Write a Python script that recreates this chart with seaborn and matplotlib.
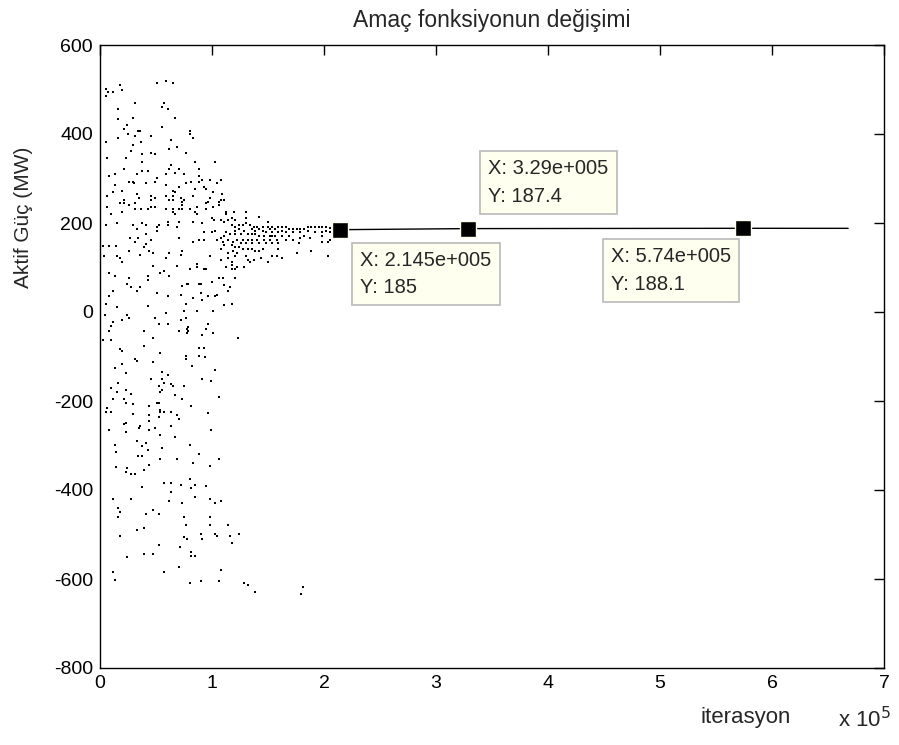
import matplotlib
matplotlib.use("Agg")
import matplotlib.pyplot as plt
import seaborn as sns
import pandas as pd

# ---------------- data ----------------
title = "Amaç fonksiyonun değişimi"
xlabel = "iterasyon"
ylabel = "Aktif Güç (MW)"
x_ticks = [0, 100000, 200000, 300000, 400000, 500000, 600000, 700000]
x_ticklabels = ["0", "1", "2", "3", "4", "5", "6", "7"]
y_ticks = [-800, -600, -400, -200, 0, 200, 400, 600]

# scattered iterations (x: iteration, y: MW)
pts_top = [(17900, 510), (50900, 515), (58900, 519), (65200, 515), (5400, 501), (7100, 494), (11600, 494),
           (19600, 499), (5400, 485), (31300, 470), (57100, 470), (55400, 461), (60700, 456), (16100, 456),
           (29500, 436), (67000, 436), (16100, 434), (24100, 420), (21400, 411), (55400, 416), (33900, 407),
           (35700, 407), (25000, 400), (31300, 396), (45500, 396), (16100, 391), (5400, 382), (36600, 382),
           (63400, 387), (29500, 375), (68800, 371), (61600, 366), (27700, 362), (37500, 355), (45500, 357),
           (49100, 355), (76800, 357), (6300, 346), (23200, 346), (37500, 337), (63400, 330), (61600, 321),
           (70500, 321), (21400, 321), (37500, 317), (42900, 317), (67000, 312), (13400, 310), (8000, 306),
           (33000, 310), (58900, 310), (75000, 310), (50900, 301), (49100, 292), (25900, 292), (29500, 292),
           (30400, 290), (41100, 290), (76800, 290), (13400, 285), (58900, 285), (70500, 281), (19600, 272),
           (11600, 270), (65200, 272), (67000, 270), (33000, 265), (6300, 261), (34800, 256), (45500, 261),
           (49100, 256), (58900, 261), (65200, 261), (72300, 256), (45500, 252), (21400, 252), (61600, 252),
           (65200, 252), (75000, 252), (17900, 245), (21400, 245), (31300, 245), (73200, 247), (6300, 236),
           (25900, 240), (45500, 236), (49100, 236), (73200, 240), (58900, 231), (65200, 231), (70500, 231),
           (73200, 231), (31300, 231), (42900, 231), (36600, 231), (19600, 225), (9800, 220), (65200, 225),
           (67000, 220)]
pts_top_mid = [(80400, 407), (80400, 400), (83000, 391), (84800, 337), (102700, 337), (88400, 321),
               (88400, 306), (81300, 292), (88400, 292), (91100, 297), (98200, 297), (108000, 297),
               (92900, 281), (104500, 290), (94600, 276), (84800, 276), (100900, 270), (83000, 261),
               (108900, 265), (98200, 256), (96400, 247), (94600, 245), (108000, 252), (110700, 252),
               (106300, 247), (106300, 240), (100900, 236), (86600, 236), (94600, 231), (80400, 231),
               (84800, 225), (112500, 225), (112500, 220), (119600, 225), (130400, 225), (86600, 220)]
pts_mid_left = [(5400, 196), (15200, 200), (29500, 196), (37500, 200), (41100, 196), (33000, 187),
                (50900, 191), (52700, 196), (50900, 182), (60700, 202), (60700, 196), (70500, 202),
                (68800, 191), (41100, 175), (26800, 166), (33900, 166), (45500, 162), (70500, 166),
                (31300, 157), (41100, 153), (2700, 148), (8000, 148), (14300, 148), (39300, 146),
                (25900, 137), (43800, 137), (47300, 133), (61600, 133), (73200, 137), (72300, 128),
                (3600, 126), (15200, 126), (35700, 128), (58900, 121), (17900, 121), (19600, 112),
                (47300, 103), (68800, 103), (8000, 88), (13400, 81), (25900, 76), (42900, 81), (42900, 72),
                (53600, 88), (57100, 92), (61600, 81), (24100, 63), (27700, 56), (35700, 56), (33000, 47),
                (73200, 58), (77700, 63), (11600, 47), (50900, 43), (8000, 36), (60700, 36), (72300, 38),
                (5400, 18), (15200, 11), (42900, 13), (76800, 18), (4500, -7), (24100, -7), (25900, -13),
                (19600, -18), (11600, -22), (49100, -13), (58900, -2), (75000, 2), (72300, -18),
                (76800, -13), (52700, -27), (60700, -27), (9800, -31), (8000, -43), (39300, -43),
                (70500, -43), (77700, -38), (77700, -47), (2700, -63), (9800, -63), (47300, -58),
                (39300, -76), (17900, -83), (19600, -88), (53600, -92)]
pts_cluster = [(83000, 202), (91100, 200), (100000, 211), (101800, 207), (108000, 207), (110700, 202),
               (114300, 207), (117900, 211), (120500, 207), (130400, 211), (130400, 200), (142000, 213),
               (150000, 202), (117900, 196), (120500, 191), (124100, 196), (127700, 196), (133900, 196),
               (137500, 191), (140200, 191), (145500, 191), (150000, 191), (151800, 187), (120500, 182),
               (124100, 187), (128600, 182), (135700, 187), (138400, 182), (142000, 187), (145500, 182),
               (148200, 180), (100000, 180), (102700, 182), (92900, 180), (112500, 180), (116100, 175),
               (120500, 175), (125900, 175), (132100, 175), (135700, 175), (138400, 175), (142000, 171),
               (146400, 171), (151800, 171), (110700, 171), (108000, 166), (104500, 162), (114300, 162),
               (122300, 162), (127700, 162), (132100, 162), (135700, 162), (140200, 162), (146400, 162),
               (151800, 162), (83000, 157), (88400, 162), (92900, 162), (109800, 157), (118800, 157),
               (125900, 155), (130400, 155), (135700, 155), (142000, 155), (148200, 155), (110700, 151),
               (117900, 151), (120500, 146), (124100, 146), (127700, 142), (132100, 142), (135700, 142),
               (138400, 137), (142000, 137), (145500, 142), (118800, 137), (114300, 133), (122300, 133),
               (108000, 142), (98200, 126), (120500, 126), (114300, 121), (130400, 126), (137500, 117),
               (143800, 121), (132100, 117), (133900, 112), (150000, 112), (108000, 117), (117900, 112),
               (86600, 108), (86600, 101), (92900, 97), (94600, 97), (80400, 97), (112500, 101),
               (117900, 106), (122300, 101), (117900, 97), (120500, 97), (128600, 101), (106300, 76),
               (109800, 76), (120500, 76), (100000, 67), (78600, 63), (88400, 63), (90200, 63),
               (110700, 61), (116100, 56), (114300, 47), (90200, 43), (104500, 38), (102700, 36),
               (96400, 36), (83000, 31), (91100, 27), (117900, 18), (110700, 16), (86600, 2), (100900, 2),
               (96400, -27), (78600, -34), (78600, -43), (94600, -38), (100900, -47), (91100, -52),
               (123200, -58), (88400, -81), (92900, -81)]
pts_tail = [(153600, 191), (156300, 187), (158900, 191), (162500, 191), (166100, 191), (168800, 187),
            (172300, 187), (175900, 187), (178600, 187), (182100, 187), (185700, 191), (188400, 191),
            (192000, 191), (195500, 191), (198200, 191), (201800, 191), (205400, 189), (153600, 180),
            (158900, 180), (162500, 182), (166100, 180), (172300, 180), (178600, 180), (185700, 182),
            (192000, 180), (198200, 180), (201800, 182), (205400, 180), (153600, 171), (156300, 171),
            (162500, 171), (168800, 171), (182100, 171), (187500, 166), (198200, 171), (158000, 162),
            (166100, 162), (172300, 162), (178600, 166), (198200, 157), (203600, 157), (205400, 162),
            (153600, 155), (158900, 155), (177700, 155), (158900, 142), (188400, 137), (175900, 133),
            (153600, 126), (158000, 126), (162500, 121), (203600, 126)]
pts_low_left = [(31300, -106), (33000, -110), (47300, -112), (19600, -117), (13400, -126), (23200, -137),
                (55400, -135), (60700, -142), (45500, -151), (55400, -151), (16100, -160), (57100, -160),
                (63400, -162), (65200, -166), (75000, -166), (52700, -166), (9800, -171), (15200, -180),
                (23200, -175), (55400, -175), (53600, -180), (27700, -184), (67000, -187), (73200, -196),
                (11600, -196), (21400, -196), (23200, -204), (50900, -204), (52700, -204), (29500, -207),
                (43800, -211), (6300, -216), (5400, -225), (9800, -225), (53600, -220), (53600, -225),
                (57100, -225), (63400, -225), (29500, -229), (43800, -231), (68800, -231), (52700, -236),
                (70500, -240), (43800, -245), (23200, -249), (21400, -252), (63400, -256), (35700, -256),
                (34800, -261), (49100, -261), (8000, -265), (43800, -265), (23200, -270), (53600, -276),
                (67000, -281), (33000, -290), (41100, -294), (13400, -299), (37500, -301), (55400, -306),
                (42900, -310), (14300, -315), (33900, -324), (37500, -324), (53600, -330), (68800, -330),
                (43800, -344), (14300, -348), (24100, -351), (39300, -355), (23200, -360), (27700, -364),
                (31300, -364), (37500, -393), (57100, -384), (63400, -384), (72300, -389), (63400, -404)]
pts_low_mid = [(76800, -99), (76800, -106), (88400, -99), (93800, -101), (82100, -121), (102700, -130),
               (91100, -151), (99100, -155), (106300, -191), (81300, -211), (96400, -227), (99100, -265),
               (80400, -299), (88400, -319), (106300, -330), (83000, -339), (98200, -346), (80400, -375),
               (84800, -389), (94600, -391), (81300, -396)]
pts_bottom = [(11600, -420), (27700, -420), (61600, -425), (73200, -429), (16100, -440), (17900, -449),
              (47300, -445), (41100, -454), (52700, -454), (16100, -461), (75000, -461), (76800, -479),
              (39300, -485), (33000, -490), (17900, -503), (75000, -506), (77700, -510), (71400, -528),
              (52700, -524), (39300, -544), (47300, -544), (24100, -551), (70500, -573), (57100, -584),
              (11600, -584), (13400, -602), (84800, -416), (98200, -420), (102700, -429), (108000, -425),
              (98200, -461), (98200, -479), (114300, -479), (90200, -499), (102700, -499), (104500, -503),
              (116100, -503), (124100, -499), (91100, -510), (117900, -519), (81300, -539), (81300, -548),
              (84800, -548), (108000, -580), (80400, -609), (90200, -604), (106300, -604), (128600, -609),
              (132100, -613), (138400, -629), (181300, -618), (179500, -634)]

# converged part of the run
conv_x = [214500, 329000, 574000, 668000]
conv_y = [185.0, 187.4, 188.1, 188.0]

# data tips
tip_x = [214500, 329000, 574000]
tip_y = [185, 187.4, 188.1]
tip_text = ["X: 2.145e+005\nY: 185", "X: 3.29e+005\nY: 187.4", "X: 5.74e+005\nY: 188.1"]

# ---------------- plot ----------------
sns.set_style("white")
plt.rcParams["font.family"] = ["Liberation Sans", "DejaVu Sans"]
plt.rcParams["axes.unicode_minus"] = False

all_pts = pts_top + pts_top_mid + pts_mid_left + pts_cluster + pts_tail + pts_low_left + pts_low_mid + pts_bottom
df = pd.DataFrame(all_pts, columns=["iter", "val"])
conv = pd.DataFrame({"iter": conv_x, "val": conv_y})

fig = plt.figure(figsize=(8.99, 7.45), dpi=100)
ax = fig.add_axes([100 / 899, 1 - 668 / 745, 784 / 899, 623 / 745])

sns.scatterplot(data=df, x="iter", y="val", ax=ax, color="black", s=2.5, marker="s",
                linewidth=0, legend=False)
sns.lineplot(data=conv, x="iter", y="val", ax=ax, color="black", linewidth=1.0, legend=False)
ax.plot(tip_x, tip_y, linestyle="none", marker="s", markersize=11, color="black",
        markeredgecolor="#fffff0", markeredgewidth=1.0, zorder=5)

ax.set_xlim(0, 700000)
ax.set_ylim(-800, 600)
ax.set_xticks(x_ticks)
ax.set_xticklabels(x_ticklabels)
ax.set_yticks(y_ticks)
ax.set_yticklabels([str(v) for v in y_ticks])
ax.tick_params(direction="in", length=7, width=1, top=True, right=True, labelsize=14, colors="black", pad=5)
for sp in ax.spines.values():
    sp.set_color("black")
    sp.set_linewidth(1.0)

ax.set_title(title, fontsize=16.5, pad=13)
ax.set_xlabel(xlabel, fontsize=16)
ax.xaxis.set_label_coords(0.823, -0.063)
ax.set_ylabel(ylabel, fontsize=15)
ax.yaxis.set_label_coords(-0.086, 0.724)
fig.text(838 / 899, 1 - 727 / 745, r"x 10$^5$", fontsize=16, va="baseline", ha="left")

box = dict(boxstyle="square,pad=0.4", facecolor="#fffff0", edgecolor="#b9b9b9", linewidth=1.2)
offsets = [(20, -21, "left", "top"), (20, 23, "left", "bottom"), (-132, -19, "left", "top")]
for (tx, ty, txt), (dx, dy, ha, va) in zip(zip(tip_x, tip_y, tip_text), offsets):
    ax.annotate(txt, xy=(tx, ty), xytext=(dx, dy), textcoords="offset pixels", ha=ha, va=va,
                fontsize=14.5, linespacing=1.55, bbox=box, zorder=6)

fig.savefig("out.png", dpi=100, facecolor="white")
